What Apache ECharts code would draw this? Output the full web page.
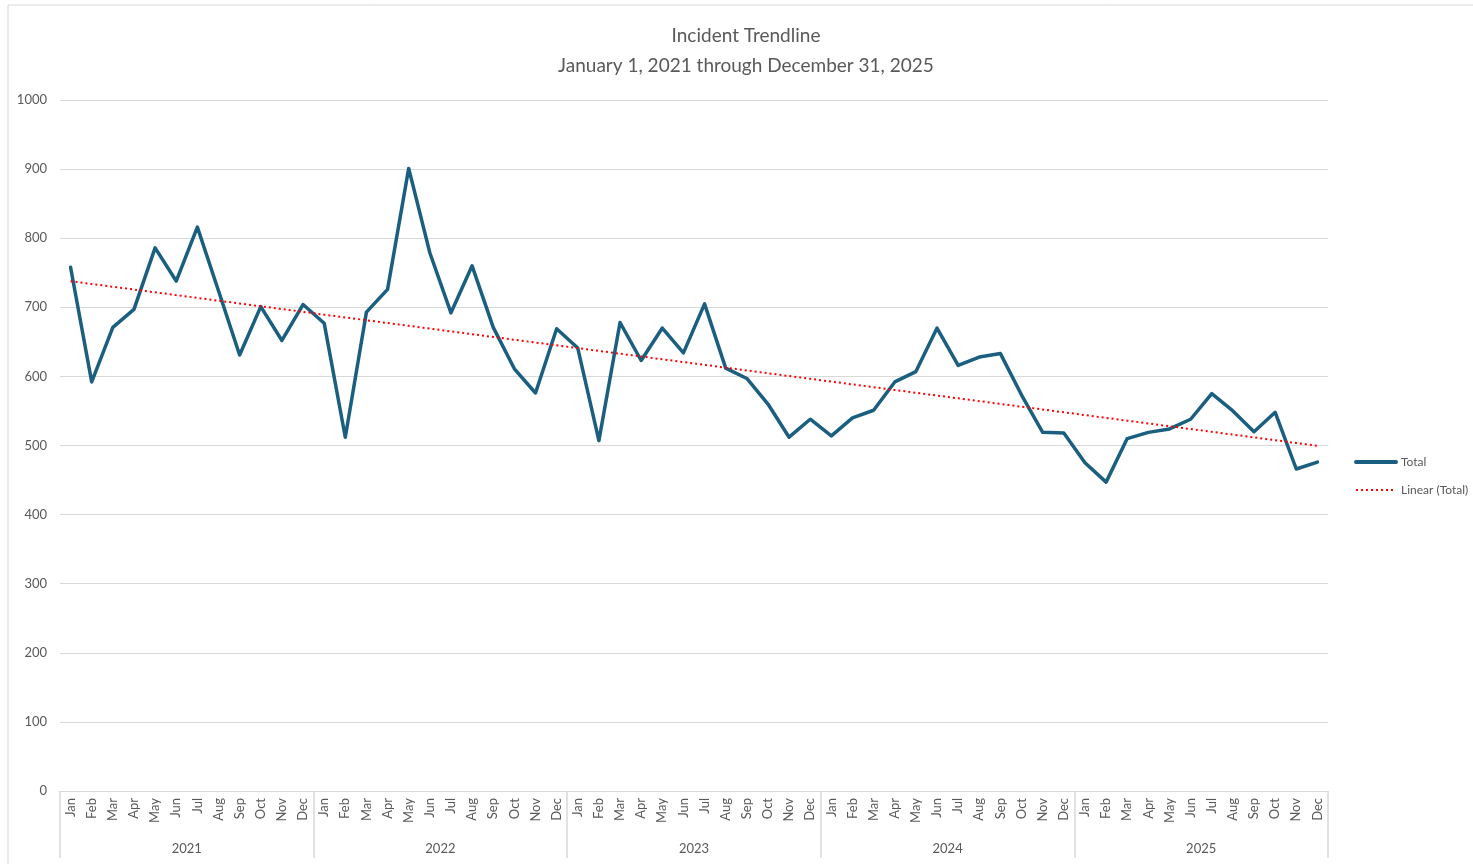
<!DOCTYPE html>
<html>
<head>
<meta charset="utf-8">
<script src="https://cdn.jsdelivr.net/npm/echarts@6/dist/echarts.min.js"></script>
<style>
  html, body { margin: 0; padding: 0; background: #fff; }
  #chart { width: 1473px; height: 864px; }
</style>
</head>
<body>
<div id="chart"></div>
<script>
// Month and year labels
const months = ["Jan", "Feb", "Mar", "Apr", "May", "Jun", "Jul", "Aug", "Sep", "Oct", "Nov", "Dec"];
const years = ["2021", "2022", "2023", "2024", "2025"];

// Monthly incident totals, one array per year
const total2021 = [758, 592, 671, 697, 786, 738, 816, 724, 631, 701, 652, 704];
const total2022 = [677, 512, 693, 726, 901, 779, 692, 760, 671, 611, 576, 669];
const total2023 = [641, 507, 678, 623, 670, 634, 705, 612, 597, 560, 512, 538];
const total2024 = [514, 540, 551, 592, 607, 670, 616, 628, 633, 573, 519, 518];
const total2025 = [475, 447, 510, 519, 524, 538, 575, 550, 520, 548, 466, 476];

const totals = [].concat(total2021, total2022, total2023, total2024, total2025);
const monthCats = [];
years.forEach(y => months.forEach(m => monthCats.push(m + " " + y)));

// Linear (Total): least squares fit of the totals
const n = totals.length;
let sx = 0, sy = 0, sxy = 0, sxx = 0;
totals.forEach((v, i) => { sx += i; sy += v; sxy += i * v; sxx += i * i; });
const slope = (n * sxy - sx * sy) / (n * sxx - sx * sx);
const intercept = (sy - slope * sx) / n;
const trend = totals.map((v, i) => +(intercept + slope * i).toFixed(2));

const gray = "#595959";
const gridGray = "#d9d9d9";
const font = "Lato";

const chart = echarts.init(document.getElementById("chart"), null, { renderer: "canvas" });

chart.setOption({
  animation: false,
  backgroundColor: "#fff",
  textStyle: { fontFamily: font },
  graphic: [{
    type: "rect",
    shape: { x: 8, y: 5, width: 1500, height: 900 },
    style: { fill: "none", stroke: gridGray, lineWidth: 1 },
    silent: true
  }],
  title: {
    text: "Incident Trendline\nJanuary 1, 2021 through December 31, 2025",
    left: 741,
    top: 16,
    textAlign: "center",
    textStyle: { fontFamily: font, fontSize: 19, fontWeight: "normal", color: gray, lineHeight: 30 }
  },
  legend: {
    orient: "vertical",
    left: 1349,
    top: 451,
    itemWidth: 40,
    itemHeight: 14,
    itemGap: 16,
    itemStyle: { opacity: 0 },
    textStyle: { fontFamily: font, fontSize: 12, color: gray, padding: [0, 0, 0, 0] },
    data: [
      { name: "Total", lineStyle: { width: 4, cap: "round" } },
      { name: "Linear (Total)", lineStyle: { width: 2 } }
    ]
  },
  grid: { left: 60, right: 145, top: 100, bottom: 73, containLabel: false },
  xAxis: [{
    type: "category",
    data: monthCats,
    boundaryGap: true,
    axisLine: { show: true, lineStyle: { color: gridGray, width: 1 } },
    axisTick: { show: false },
    axisLabel: {
      interval: 0,
      rotate: 90,
      margin: 7,
      fontSize: 13,
      color: gray,
      fontFamily: font,
      formatter: v => v.split(" ")[0]
    }
  }, {
    type: "category",
    data: years,
    position: "bottom",
    boundaryGap: true,
    axisLine: { show: false },
    axisTick: { show: true, length: 67, lineStyle: { color: gridGray, width: 1.5 } },
    axisLabel: { margin: 51, fontSize: 13, color: gray, fontFamily: font },
    splitLine: { show: false }
  }],
  yAxis: {
    type: "value",
    min: 0,
    max: 1000,
    interval: 100,
    axisLine: { show: false },
    axisTick: { show: false },
    axisLabel: { margin: 13, fontSize: 13, color: gray, fontFamily: font, formatter: v => String(v) },
    splitLine: { lineStyle: { color: gridGray, width: 1 } }
  },
  series: [{
    name: "Total",
    type: "line",
    data: totals,
    symbol: "none",
    lineStyle: { color: "#1b5f80", width: 3.5, cap: "round", join: "round" },
    itemStyle: { color: "#1b5f80" }
  }, {
    name: "Linear (Total)",
    type: "line",
    data: trend,
    symbol: "none",
    lineStyle: { color: "#ff0000", width: 2, type: [2, 3] },
    itemStyle: { color: "#ff0000" },
    z: 3
  }]
});
</script>
</body>
</html>
